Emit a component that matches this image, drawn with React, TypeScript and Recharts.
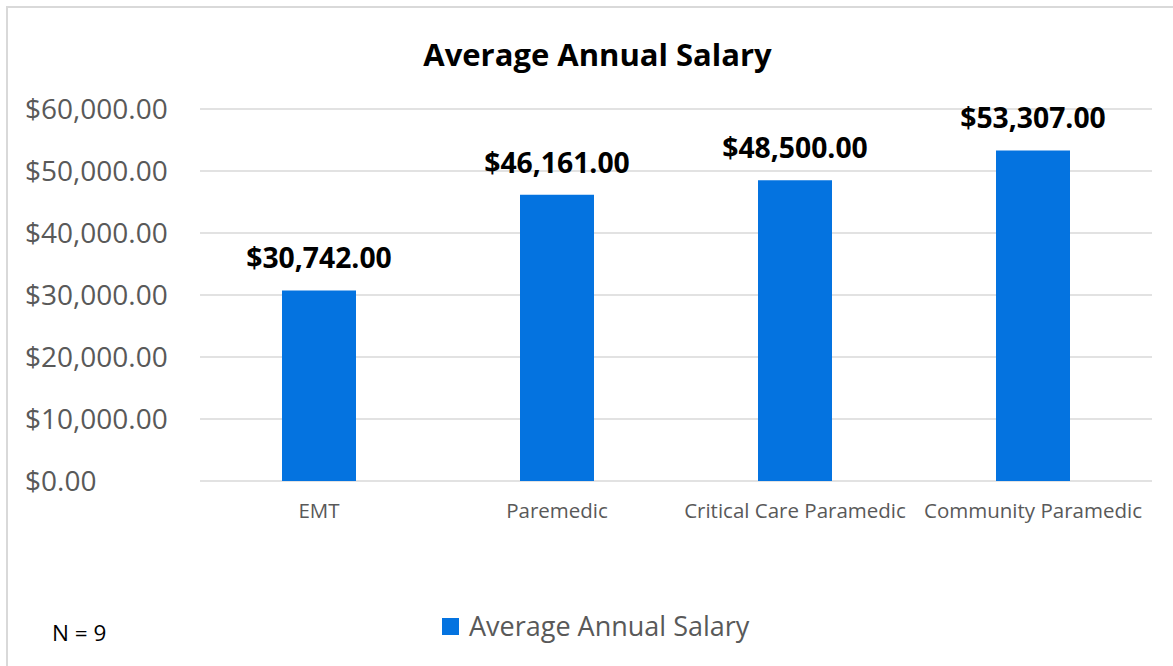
import React from 'react';
import { BarChart, Bar, XAxis, YAxis, CartesianGrid, Legend, LabelList } from 'recharts';

// chart values
const categories = ['EMT', 'Paremedic', 'Critical Care Paramedic', 'Community Paramedic'];
const salaries = [30742, 46161, 48500, 53307];
const yTicks = [0, 10000, 20000, 30000, 40000, 50000, 60000];

const BAR_COLOR = '#0473e0';
const GRAY_TEXT = '#595959';
const FONT = '"Open Sans", sans-serif';

const money = (v: number) =>
  `$${Number(v).toLocaleString('en-US', { minimumFractionDigits: 2, maximumFractionDigits: 2 })}`;

const chartData = categories.map((name, i) => ({ name, salary: salaries[i] }));

// y labels are left aligned in the reference, so draw them ourselves
const YTick = ({ y, payload }: any) => (
  <text x={25} y={y} dy="0.355em" textAnchor="start" fill={GRAY_TEXT} fontSize={28} fontFamily={FONT}>
    {money(payload.value)}
  </text>
);

const CustomLegend = ({ payload }: any) => (
  <div style={{ display: 'flex', alignItems: 'center', fontFamily: FONT }}>
    {(payload || []).map((entry: any, index: number) => (
      <div key={index} style={{ display: 'flex', alignItems: 'center' }}>
        <span style={{ display: 'inline-block', width: 17, height: 17, background: entry.color, marginRight: 10 }} />
        <span style={{ fontSize: 27, color: GRAY_TEXT, lineHeight: '30px' }}>{entry.value}</span>
      </div>
    ))}
  </div>
);

export default function App() {
  return (
    <div
      style={{
        position: 'absolute',
        left: 0,
        top: 0,
        width: 1173,
        height: 666,
        overflow: 'hidden',
        background: '#fff',
        fontFamily: FONT,
      }}
    >
      {/* chart frame, only top and left edges are inside the picture */}
      <div
        style={{
          position: 'absolute',
          left: 6,
          top: 6,
          width: 1400,
          height: 900,
          border: '2px solid #d9d9d9',
          boxSizing: 'border-box',
        }}
      />

      <div
        style={{
          position: 'absolute',
          left: 0,
          width: 1195,
          top: 33,
          textAlign: 'center',
          fontSize: 31,
          fontWeight: 700,
          color: '#000',
          lineHeight: '42px',
        }}
      >
        Average Annual Salary
      </div>

      <div style={{ position: 'absolute', left: 0, top: 0 }}>
        <BarChart
          width={1173}
          height={666}
          data={chartData}
          margin={{ top: 109, right: 21, left: 0, bottom: 155 }}
          barSize={74}
        >
          <CartesianGrid vertical={false} stroke="#d9d9d9" strokeWidth={1.5} />
          <XAxis
            dataKey="name"
            height={30}
            axisLine={false}
            tickLine={false}
            tickMargin={16}
            interval={0}
            tick={{ fill: GRAY_TEXT, fontSize: 20.5, fontFamily: FONT }}
          />
          <YAxis
            width={200}
            domain={[0, 60000]}
            ticks={yTicks}
            axisLine={false}
            tickLine={false}
            tick={<YTick />}
          />
          <Legend
            layout="vertical"
            align="center"
            verticalAlign="middle"
            wrapperStyle={{ top: 611, left: 442, width: 'auto' }}
            content={<CustomLegend />}
          />
          <Bar dataKey="salary" name="Average Annual Salary" fill={BAR_COLOR} isAnimationActive={false}>
            <LabelList
              dataKey="salary"
              position="top"
              offset={22}
              formatter={(v: any) => money(v)}
              style={{ fill: '#000', fontSize: 28.3, fontWeight: 700, fontFamily: FONT }}
            />
          </Bar>
        </BarChart>
      </div>

      <div style={{ position: 'absolute', left: 52, top: 619, fontSize: 22.5, color: '#000', lineHeight: '28px' }}>
        N = 9
      </div>
    </div>
  );
}
